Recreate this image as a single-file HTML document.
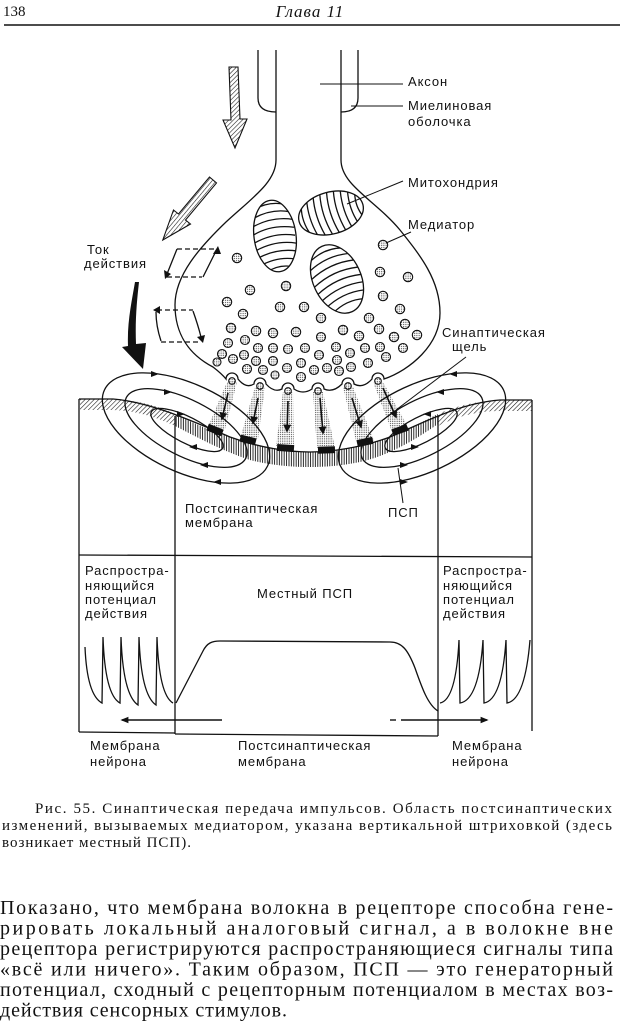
<!DOCTYPE html>
<html>
<head>
<meta charset="utf-8">
<style>
  html,body{margin:0;padding:0;background:#fff;}
  svg{display:block;}
  .lb{font-family:"Liberation Sans","DejaVu Sans",sans-serif;font-size:13px;letter-spacing:0.9px;fill:#111;}
  .cap{font-family:"Liberation Serif","DejaVu Serif",serif;font-size:15px;fill:#111;}
  .bd{font-family:"Liberation Serif","DejaVu Serif",serif;font-size:20px;fill:#111;}
  .ln{fill:none;stroke:#111;stroke-width:1.3;}
</style>
</head>
<body>
<svg width="620" height="1024" viewBox="0 0 620 1024" xmlns="http://www.w3.org/2000/svg">
  <defs>
    <pattern id="diag" width="3.2" height="3.2" patternUnits="userSpaceOnUse" patternTransform="rotate(45)">
      <line x1="0" y1="0" x2="0" y2="3.2" stroke="#111" stroke-width="1.1"/>
    </pattern>
    <pattern id="diag2" width="3.2" height="3.2" patternUnits="userSpaceOnUse" patternTransform="rotate(40)">
      <line x1="0" y1="0" x2="0" y2="3.2" stroke="#111" stroke-width="1.1"/>
    </pattern>
    <pattern id="vert" width="2.4" height="10" patternUnits="userSpaceOnUse">
      <line x1="1" y1="0" x2="1" y2="10" stroke="#111" stroke-width="0.9"/>
    </pattern>
    <pattern id="dots" width="2.2" height="2.2" patternUnits="userSpaceOnUse">
      <circle cx="1.1" cy="1.1" r="0.55" fill="#222"/>
    </pattern>
    <marker id="ah" viewBox="0 0 10 10" refX="8" refY="5" markerWidth="8" markerHeight="8" orient="auto" markerUnits="userSpaceOnUse">
      <path d="M0,0 L10,5 L0,10 Z" fill="#111"/>
    </marker>
    <marker id="ah2" viewBox="0 0 10 10" refX="8" refY="5" markerWidth="11" markerHeight="8" orient="auto" markerUnits="userSpaceOnUse">
      <path d="M0,1 L10,5 L0,9 Z" fill="#111"/>
    </marker>
  </defs>

  <!-- Header -->
  <text x="3" y="16" style="font-family:'Liberation Serif',serif;font-size:15px;fill:#111">138</text>
  <text x="310" y="17" text-anchor="middle" style="font-family:'Liberation Serif',serif;font-style:italic;font-size:17px;letter-spacing:1px;fill:#111">Глава 11</text>
  <line x1="4" y1="25" x2="620" y2="25" stroke="#111" stroke-width="1.5"/>

  <!-- Axon and myelin -->
  <path class="ln" d="M258,50 V98 Q258,112 276,112"/>
  <path class="ln" d="M358,50 V98 Q358,112 341,112"/>

  <!-- Bulb -->
  <path class="ln" stroke-width="1.5" d="M276,50 L276,160 C276,182 252,198 226,222 C200,247 175,275 175,305 C175,335 190,355 213,367 Q222,374 226,379 A6,6 0 0 1 238,379 Q246,389 254,384 A6,6 0 0 1 266,384 Q274,393 282,389 A6,6 0 0 1 294,389 Q303,395 312,389 A6,6 0 0 1 324,389 Q333,393 342,384 A6,6 0 0 1 354,384 Q363,389 372,379 A6,6 0 0 1 384,379 C410,370 440,345 440,313 C440,280 420,255 400,230 C375,200 341,185 341,160 L341,50"/>

  <!-- Mitochondria -->
  <defs>
    <clipPath id="m1"><ellipse cx="0" cy="0" rx="21" ry="36"/></clipPath>
    <clipPath id="m2"><ellipse cx="0" cy="0" rx="33" ry="21"/></clipPath>
    <clipPath id="m3"><ellipse cx="0" cy="0" rx="24" ry="36"/></clipPath>
  </defs>
  <g transform="translate(275,236) rotate(-8)">
    <ellipse cx="0" cy="0" rx="21" ry="36" class="ln"/>
    <g clip-path="url(#m1)" class="ln" stroke-width="1">
      <path d="M-20,-28 Q-2,-36 14,-30"/>
      <path d="M-20,-20 Q0,-28 18,-22"/>
      <path d="M-21,-12 Q0,-20 20,-14"/>
      <path d="M-21,-4 Q-2,-12 20,-6"/>
      <path d="M-21,4 Q0,-4 20,2"/>
      <path d="M-21,12 Q0,4 20,10"/>
      <path d="M-21,20 Q0,12 20,18"/>
      <path d="M-20,28 Q0,20 18,26"/>
      <path d="M-14,35 Q0,28 14,33"/>
    </g>
  </g>
  <g transform="translate(331,213) rotate(-15)">
    <ellipse cx="0" cy="0" rx="33" ry="21" class="ln"/>
    <g clip-path="url(#m2)" class="ln" stroke-width="1">
      <path d="M-27,-14 Q-31,0 -25,16"/>
      <path d="M-20,-20 Q-24,0 -18,20"/>
      <path d="M-13,-21 Q-17,0 -11,21"/>
      <path d="M-6,-21 Q-10,0 -4,21"/>
      <path d="M1,-21 Q-3,0 3,21"/>
      <path d="M8,-21 Q4,0 10,21"/>
      <path d="M15,-21 Q11,0 17,20"/>
      <path d="M22,-19 Q18,0 24,17"/>
      <path d="M28,-13 Q25,0 30,11"/>
    </g>
  </g>
  <g transform="translate(337,279) rotate(-25)">
    <ellipse cx="0" cy="0" rx="24" ry="36" class="ln"/>
    <g clip-path="url(#m3)" class="ln" stroke-width="1">
      <path d="M-20,-26 Q0,-34 18,-26"/>
      <path d="M-23,-18 Q0,-26 22,-18"/>
      <path d="M-24,-10 Q0,-18 24,-10"/>
      <path d="M-24,-2 Q0,-10 24,-2"/>
      <path d="M-24,6 Q0,-2 24,6"/>
      <path d="M-24,14 Q0,6 24,14"/>
      <path d="M-23,22 Q0,14 22,22"/>
      <path d="M-20,30 Q0,22 18,30"/>
    </g>
  </g>

  <!-- Vesicles -->
  <g fill="url(#dots)" stroke="#111" stroke-width="1.1">
    <circle cx="237" cy="258" r="4.7"/><circle cx="250" cy="290" r="4.7"/><circle cx="286" cy="286" r="4.7"/>
    <circle cx="227" cy="302" r="4.7"/><circle cx="280" cy="307" r="4.7"/><circle cx="304" cy="307" r="4.7"/>
    <circle cx="243" cy="314" r="4.7"/><circle cx="383" cy="245" r="4.7"/><circle cx="380" cy="272" r="4.7"/>
    <circle cx="408" cy="277" r="4.7"/><circle cx="383" cy="296" r="4.7"/><circle cx="400" cy="309" r="4.7"/>
    <circle cx="321" cy="318" r="4.7"/><circle cx="369" cy="318" r="4.7"/>
    <circle cx="231" cy="328" r="4.7"/><circle cx="256" cy="331" r="4.7"/><circle cx="273" cy="333" r="4.7"/>
    <circle cx="296" cy="332" r="4.7"/><circle cx="343" cy="330" r="4.7"/><circle cx="359" cy="336" r="4.7"/>
    <circle cx="379" cy="329" r="4.7"/><circle cx="405" cy="324" r="4.7"/><circle cx="394" cy="337" r="4.7"/>
    <circle cx="417" cy="335" r="4.7"/><circle cx="228" cy="343" r="4.5"/><circle cx="245" cy="340" r="4.5"/>
    <circle cx="258" cy="348" r="4.5"/><circle cx="273" cy="348" r="4.5"/><circle cx="288" cy="349" r="4.5"/>
    <circle cx="305" cy="348" r="4.5"/><circle cx="321" cy="337" r="4.5"/><circle cx="336" cy="347" r="4.5"/>
    <circle cx="350" cy="353" r="4.5"/><circle cx="365" cy="348" r="4.5"/><circle cx="380" cy="347" r="4.5"/>
    <circle cx="403" cy="348" r="4.5"/><circle cx="222" cy="354" r="4.5"/><circle cx="233" cy="359" r="4.5"/>
    <circle cx="244" cy="355" r="4.5"/><circle cx="256" cy="361" r="4.5"/><circle cx="273" cy="361" r="4.5"/>
    <circle cx="287" cy="368" r="4.5"/><circle cx="301" cy="363" r="4.5"/><circle cx="319" cy="355" r="4.5"/>
    <circle cx="337" cy="360" r="4.5"/><circle cx="351" cy="367" r="4.5"/><circle cx="368" cy="363" r="4.5"/>
    <circle cx="386" cy="357" r="4.5"/><circle cx="217" cy="362" r="4.0"/><circle cx="247" cy="369" r="4.5"/>
    <circle cx="263" cy="370" r="4.5"/><circle cx="275" cy="375" r="4.0"/><circle cx="301" cy="377" r="4.5"/>
    <circle cx="314" cy="370" r="4.5"/><circle cx="327" cy="368" r="4.5"/><circle cx="339" cy="371" r="4.5"/>
    <circle cx="232" cy="381" r="3.3"/><circle cx="260" cy="386" r="3.3"/><circle cx="288" cy="391" r="3.3"/>
    <circle cx="318" cy="391" r="3.3"/><circle cx="348" cy="386" r="3.3"/><circle cx="378" cy="381" r="3.3"/>
  </g>

  <!-- Hatched arrows -->
  <path d="M229,67 L238,67 L240,119 L247,119 L235,148 L223,120 L231,120 Z" fill="url(#diag)" stroke="#111" stroke-width="1.1"/>
  <path d="M209.5,177 L216.5,183 L185.5,220 L190.5,224 L162.8,240 L173.5,210 L178.5,214 Z" fill="url(#diag2)" stroke="#111" stroke-width="1.1"/>

  <!-- Ток действия -->
  <text class="lb" x="87" y="254">Ток</text>
  <text class="lb" x="84" y="268">действия</text>

  <!-- dashed arrows -->
  <g class="ln" stroke-width="1">
    <path d="M177,249 H215" stroke-dasharray="5,3"/>
    <path d="M167,277 H202" stroke-dasharray="5,3"/>
    <path d="M216,251 L203,277"/>
    <path d="M177,249 L167,274"/>
    <path d="M157,310 H193" stroke-dasharray="5,3"/>
    <path d="M161,342 H199" stroke-dasharray="5,3"/>
    <path d="M156,312 Q156,326 161,341"/>
    <path d="M193,311 Q198,325 201,337"/>
  </g>
  <polygon points="218,246 213,254 221,254" fill="#111"/>
  <polygon points="165,279 164,270 171,274" fill="#111"/>
  <polygon points="153,310 160,306 160,314" fill="#111"/>
  <polygon points="203,343 197,337 205,335" fill="#111"/>

  <!-- Thick black curved arrow -->
  <path d="M135,282 C132,300 127,322 128,346 L122,347 L143,369 L146,343 L136,344 C135,320 137,300 139,282 Z" fill="#111"/>

  <!-- Right labels -->
  <line x1="320" y1="84" x2="403" y2="84" stroke="#111" stroke-width="1"/>
  <text class="lb" x="408" y="86">Аксон</text>
  <line x1="351" y1="106" x2="403" y2="106" stroke="#111" stroke-width="1"/>
  <text class="lb" x="408" y="110">Миелиновая</text>
  <text class="lb" x="408" y="126">оболочка</text>
  <line x1="347" y1="204" x2="403" y2="181" stroke="#111" stroke-width="1"/>
  <text class="lb" x="408" y="187">Митохондрия</text>
  <line x1="386" y1="243" x2="411" y2="232" stroke="#111" stroke-width="1"/>
  <text class="lb" x="408" y="229">Медиатор</text>
  <text class="lb" x="442" y="337">Синаптическая</text>
  <text class="lb" x="452" y="351">щель</text>
  <line x1="466" y1="357" x2="396" y2="410" stroke="#111" stroke-width="1"/>

  <!-- Postsynaptic region hatching -->
  <path d="M80,399 L113,399 C145,401 162,408 175,414 L175,426 C160,419 140,411 113,410 L80,410 Z" fill="url(#diag)"/>
  <path d="M532,400 L500,400 C468,402 452,408 438,414 L438,426 C452,419 472,411 500,411 L532,411 Z" fill="url(#diag)"/>
  <path d="M175,414 C195,424 212,431 230,437 C260,448 290,452 310,452 C330,452 360,448 390,437 C410,429 425,420 438,414 L438,424 C415,440 390,455 360,462 C340,466 325,467 310,467 C290,467 270,465 250,460 C220,450 195,436 175,426 Z" fill="url(#vert)"/>

  <!-- Cones -->
  <g fill="url(#dots)" stroke="none">
    <polygon points="227,382 237,382 225,429 207,429"/>
    <polygon points="255,387 265,387 258,439 240,439"/>
    <polygon points="283,392 293,392 294,446 276,446"/>
    <polygon points="313,392 323,392 335,448 317,448"/>
    <polygon points="343,387 353,387 374,441 356,441"/>
    <polygon points="373,382 383,382 409,429 391,429"/>
  </g>

  <!-- Box lines -->
  <g stroke="#111" stroke-width="1.3" fill="none">
    <line x1="79" y1="399" x2="79" y2="732"/>
    <line x1="532" y1="400" x2="532" y2="731"/>
    <line x1="175" y1="416" x2="175" y2="734"/>
    <line x1="438" y1="416" x2="438" y2="736"/>
    <line x1="79" y1="555" x2="532" y2="557"/>
    <line x1="79" y1="732" x2="175" y2="733"/>
    <line x1="175" y1="734" x2="438" y2="736"/>
  </g>

  <!-- Postsynaptic membrane -->
  <path class="ln" stroke-width="1.4" d="M79,399 L113,399 C150,402 190,420 230,437 C260,448 290,452 310,452 C330,452 360,448 390,437 C425,422 460,403 500,400 L532,400"/>

  <!-- Bars -->
  <g fill="#111">
    <rect x="-8" y="-3.5" width="16" height="7" transform="translate(215,430) rotate(22)"/>
    <rect x="-8" y="-3.5" width="16" height="7" transform="translate(248,440) rotate(14)"/>
    <rect x="-8" y="-3.5" width="17" height="7" transform="translate(285,448) rotate(4)"/>
    <rect x="-8" y="-3.5" width="17" height="7" transform="translate(326,450) rotate(-2)"/>
    <rect x="-8" y="-3.5" width="16" height="7" transform="translate(365,442) rotate(-12)"/>
    <rect x="-8" y="-3.5" width="16" height="7" transform="translate(400,430) rotate(-20)"/>
  </g>

  <!-- Arrows in cones -->
  <g stroke="#111" stroke-width="1.6" marker-end="url(#ah)">
    <line x1="228" y1="393" x2="222" y2="419"/>
    <line x1="258" y1="398" x2="253" y2="423"/>
    <line x1="288" y1="401" x2="287" y2="431"/>
    <line x1="320" y1="398" x2="323" y2="433"/>
    <line x1="352" y1="398" x2="361" y2="427"/>
    <line x1="383" y1="388" x2="396" y2="417"/>
  </g>

  <!-- Field loops -->
  <g class="ln" stroke-width="1.3">
    <ellipse cx="186" cy="428" rx="90" ry="44" transform="rotate(25 186 428)"/>
    <ellipse cx="186" cy="428" rx="67" ry="28" transform="rotate(27 186 428)"/>
    <ellipse cx="187" cy="430" rx="40" ry="13" transform="rotate(27 187 430)"/>
    <ellipse cx="422" cy="428" rx="90" ry="44" transform="rotate(-25 422 428)"/>
    <ellipse cx="422" cy="428" rx="67" ry="28" transform="rotate(-27 422 428)"/>
    <ellipse cx="421" cy="430" rx="40" ry="13" transform="rotate(-27 421 430)"/>
  </g>
  <g fill="#111">
    <polygon points="159,374 151,371 151,377"/>
    <polygon points="172,392 164,389 164,395"/>
    <polygon points="185,414 177,411 177,417"/>
    <polygon points="213,482 221,479 221,485"/>
    <polygon points="200,465 208,462 208,468"/>
    <polygon points="189,447 197,444 197,450"/>
    <polygon points="449,374 457,371 457,377"/>
    <polygon points="436,392 444,389 444,395"/>
    <polygon points="423,414 431,411 431,417"/>
    <polygon points="408,482 400,479 400,485"/>
    <polygon points="408,465 400,462 400,468"/>
    <polygon points="419,447 411,444 411,450"/>
  </g>

  <!-- Labels middle -->
  <text class="lb" x="185" y="513">Постсинаптическая</text>
  <text class="lb" x="185" y="527">мембрана</text>
  <text class="lb" x="388" y="517">ПСП</text>
  <line x1="403" y1="503" x2="398" y2="468" stroke="#111" stroke-width="1"/>

  <!-- Lower panel labels -->
  <text class="lb" x="85" y="575">Распростра-</text>
  <text class="lb" x="85" y="590">няющийся</text>
  <text class="lb" x="85" y="604">потенциал</text>
  <text class="lb" x="85" y="618">действия</text>
  <text class="lb" x="443" y="575">Распростра-</text>
  <text class="lb" x="443" y="590">няющийся</text>
  <text class="lb" x="443" y="604">потенциал</text>
  <text class="lb" x="443" y="618">действия</text>
  <text class="lb" x="257" y="598">Местный ПСП</text>

  <!-- Spikes -->
  <path class="ln" stroke-width="1.3" d="M85,647 Q87,695 102,703 L103,637 Q105,695 120,703 L121,637 Q123,695 138,705 L139,637 Q141,695 156,705 L157,637 Q159,695 173,703"/>
  <path class="ln" stroke-width="1.3" d="M440,703 Q456,700 459,640 L460,703 Q479,700 483,640 L484,703 Q502,700 506,640 L507,703 Q525,700 530,640"/>

  <!-- PSP curve -->
  <path class="ln" stroke-width="3" d="M176,703 L203,651 C207,643 212,641 220,641 L390,642 C402,642 408,650 415,668 C422,688 428,705 438,711"/>

  <!-- Direction arrows -->
  <line x1="222" y1="720" x2="122" y2="720" stroke="#111" stroke-width="1.4" marker-end="url(#ah2)"/>
  <line x1="390" y1="720" x2="396" y2="720" stroke="#111" stroke-width="1.4"/>
  <line x1="401" y1="720" x2="487" y2="720" stroke="#111" stroke-width="1.4" marker-end="url(#ah2)"/>

  <!-- Bottom labels -->
  <text class="lb" x="90" y="750">Мембрана</text>
  <text class="lb" x="90" y="766">нейрона</text>
  <text class="lb" x="238" y="750">Постсинаптическая</text>
  <text class="lb" x="238" y="766">мембрана</text>
  <text class="lb" x="452" y="750">Мембрана</text>
  <text class="lb" x="452" y="766">нейрона</text>

  <!-- Caption -->
  <text class="cap" x="35" y="813" textLength="577" lengthAdjust="spacing">Рис. 55. Синаптическая передача импульсов. Область постсинаптических</text>
  <text class="cap" x="2" y="830" textLength="610" lengthAdjust="spacing">изменений, вызываемых медиатором, указана вертикальной штриховкой (здесь</text>
  <text class="cap" x="2" y="847" textLength="189" lengthAdjust="spacing">возникает местный ПСП).</text>

  <!-- Body text -->
  <text class="bd" x="0" y="914" textLength="613" lengthAdjust="spacing">Показано, что мембрана волокна в рецепторе способна гене-</text>
  <text class="bd" x="0" y="934.5" textLength="613" lengthAdjust="spacing">рировать локальный аналоговый сигнал, а в волокне вне</text>
  <text class="bd" x="0" y="955" textLength="613" lengthAdjust="spacing">рецептора регистрируются распространяющиеся сигналы типа</text>
  <text class="bd" x="0" y="975.5" textLength="613" lengthAdjust="spacing">«всё или ничего». Таким образом, ПСП — это генераторный</text>
  <text class="bd" x="0" y="996" textLength="613" lengthAdjust="spacing">потенциал, сходный с рецепторным потенциалом в местах воз-</text>
  <text class="bd" x="0" y="1016.5" textLength="287" lengthAdjust="spacing">действия сенсорных стимулов.</text>
</svg>
</body>
</html>
